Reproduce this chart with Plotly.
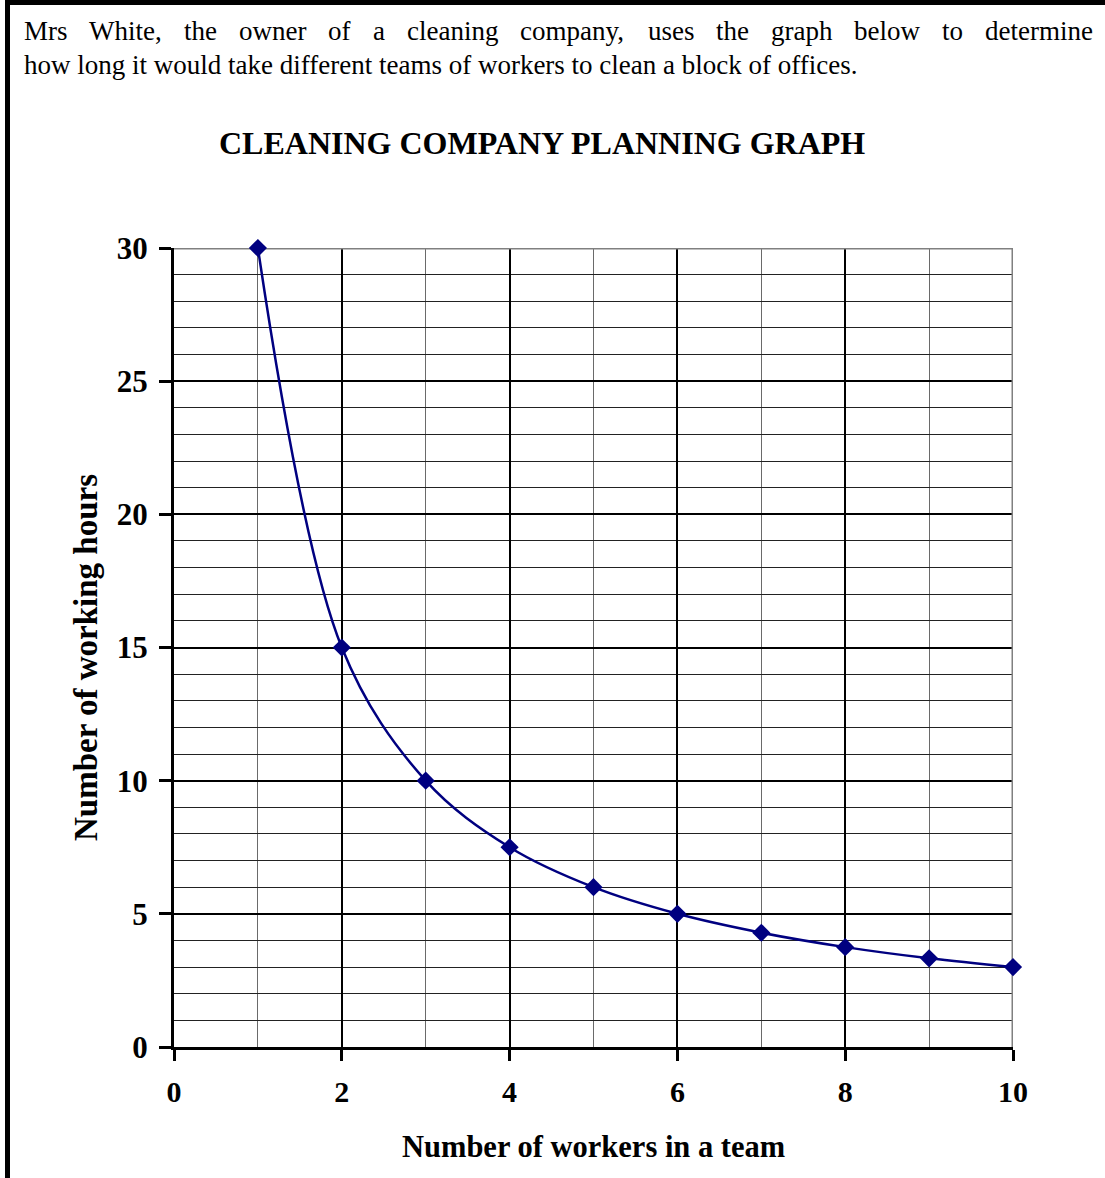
import plotly.graph_objects as go

# ---------------- data ----------------
workers = [1, 2, 3, 4, 5, 6, 7, 8, 9, 10]
hours = [30, 15, 10, 7.5, 6, 5, 4.29, 3.75, 3.33, 3]
x_tick_vals = [0, 2, 4, 6, 8, 10]
y_tick_vals = [0, 5, 10, 15, 20, 25, 30]
chart_title = "CLEANING COMPANY PLANNING GRAPH"
x_title = "Number of workers in a team"
y_title = "Number of working hours"
intro_line1 = "Mrs White, the owner of a cleaning company, uses the graph below to determine"
intro_line2 = "how long it would take different teams of workers to clean a block of offices."

# ---------------- layout helpers ----------------
W, H = 1105, 1178
L, R, T, B = 174, 92, 248, 131
PW = W - L - R
PH = H - T - B
FONT = "Liberation Serif, Times New Roman, Times, serif"
NAVY = "#000080"


def px(xp):
    return (xp - L) / PW


def py(yp):
    return (H - B - yp) / PH


# Times (Liberation Serif) regular advance widths, per 1000 em
TW = {'M': 889, 'r': 333, 's': 389, ' ': 250, 'W': 944, 'h': 500, 'i': 278, 't': 278,
      'e': 444, ',': 250, 'o': 500, 'w': 722, 'n': 500, 'f': 333, 'a': 444, 'c': 444,
      'l': 278, 'g': 500, 'm': 778, 'p': 500, 'y': 500, 'u': 500, 'b': 500, 'd': 500,
      'k': 500, '.': 250}


def word_w(word, size):
    return sum(TW.get(ch, 500) for ch in word) * size / 1000.0


fig = go.Figure()

fig.add_trace(go.Scatter(
    x=workers, y=hours, mode="lines+markers",
    line=dict(color=NAVY, width=2.5, shape="spline", smoothing=1.0),
    marker=dict(symbol="diamond", size=14, color=NAVY),
    cliponaxis=False, showlegend=False, hoverinfo="x+y",
))

annotations = []

# justified first line of the intro text
INTRO_SIZE = 27
x_start, x_end = 22, 1091
words = intro_line1.split(" ")
total_w = sum(word_w(w_, INTRO_SIZE) for w_ in words)
gap = (x_end - x_start - total_w) / (len(words) - 1)
cx = x_start
for w_ in words:
    annotations.append(dict(
        text=w_, x=px(cx), y=py(31), xref="paper", yref="paper",
        xanchor="left", yanchor="middle", showarrow=False,
        font=dict(family=FONT, size=INTRO_SIZE, color="black")))
    cx += word_w(w_, INTRO_SIZE) + gap

annotations.append(dict(
    text=intro_line2, x=px(22), y=py(65), xref="paper", yref="paper",
    xanchor="left", yanchor="middle", showarrow=False,
    font=dict(family=FONT, size=INTRO_SIZE, color="black")))

annotations.append(dict(
    text=chart_title, x=px(542), y=py(143), xref="paper", yref="paper",
    xanchor="center", yanchor="middle", showarrow=False,
    font=dict(family=FONT, size=32, color="black", weight="bold")))

annotations.append(dict(
    text=x_title, x=px(593), y=py(1147), xref="paper", yref="paper",
    xanchor="center", yanchor="middle", showarrow=False,
    font=dict(family=FONT, size=30.5, color="black", weight="bold")))

annotations.append(dict(
    text=y_title, x=px(86), y=py(658), xref="paper", yref="paper",
    xanchor="center", yanchor="middle", showarrow=False, textangle=-90,
    font=dict(family=FONT, size=33, color="black", weight="bold")))

shapes = [
    # page border: top and left
    dict(type="line", xref="paper", yref="paper", x0=px(5), x1=px(W + 5),
         y0=py(2.5), y1=py(2.5), line=dict(color="black", width=5), layer="above"),
    dict(type="line", xref="paper", yref="paper", x0=px(7.5), x1=px(7.5),
         y0=py(0), y1=py(H + 5), line=dict(color="black", width=5), layer="above"),
    # plot frame top and right (gray)
    dict(type="line", xref="x", yref="y", x0=0, x1=10, y0=30, y1=30,
         line=dict(color="#808080", width=3), layer="between"),
    dict(type="line", xref="x", yref="y", x0=10, x1=10, y0=0, y1=30,
         line=dict(color="#808080", width=3), layer="between"),
]

fig.update_layout(
    width=W, height=H, autosize=False,
    margin=dict(l=L, r=R, t=T, b=B, pad=0),
    paper_bgcolor="white", plot_bgcolor="white",
    annotations=annotations, shapes=shapes,
    showlegend=False,
)

fig.update_xaxes(
    range=[0, 10], tickvals=x_tick_vals, ticktext=[str(v) for v in x_tick_vals],
    showgrid=True, gridcolor="black", gridwidth=2,
    minor=dict(dtick=1, showgrid=True, gridcolor="#6a6a6a", gridwidth=1, ticks=""),
    showline=True, linecolor="black", linewidth=3, zeroline=False,
    ticks="outside", ticklen=11, tickwidth=3, tickcolor="black",
    tickfont=dict(family=FONT, size=30, color="black", weight="bold"),
    ticklabelstandoff=5, fixedrange=True,
)

fig.update_yaxes(
    range=[0, 30], tickvals=y_tick_vals, ticktext=[str(v) for v in y_tick_vals],
    showgrid=True, gridcolor="black", gridwidth=2,
    minor=dict(dtick=1, showgrid=True, gridcolor="#222222", gridwidth=1, ticks=""),
    showline=True, linecolor="black", linewidth=3, zeroline=False,
    ticks="outside", ticklen=12, tickwidth=3, tickcolor="black",
    tickfont=dict(family=FONT, size=31, color="black", weight="bold"),
    ticklabelstandoff=5, fixedrange=True,
)

fig.write_html(
    "out.html",
    config={"displayModeBar": False},
    post_script="document.body.style.margin='0';document.body.style.overflow='hidden';",
)
